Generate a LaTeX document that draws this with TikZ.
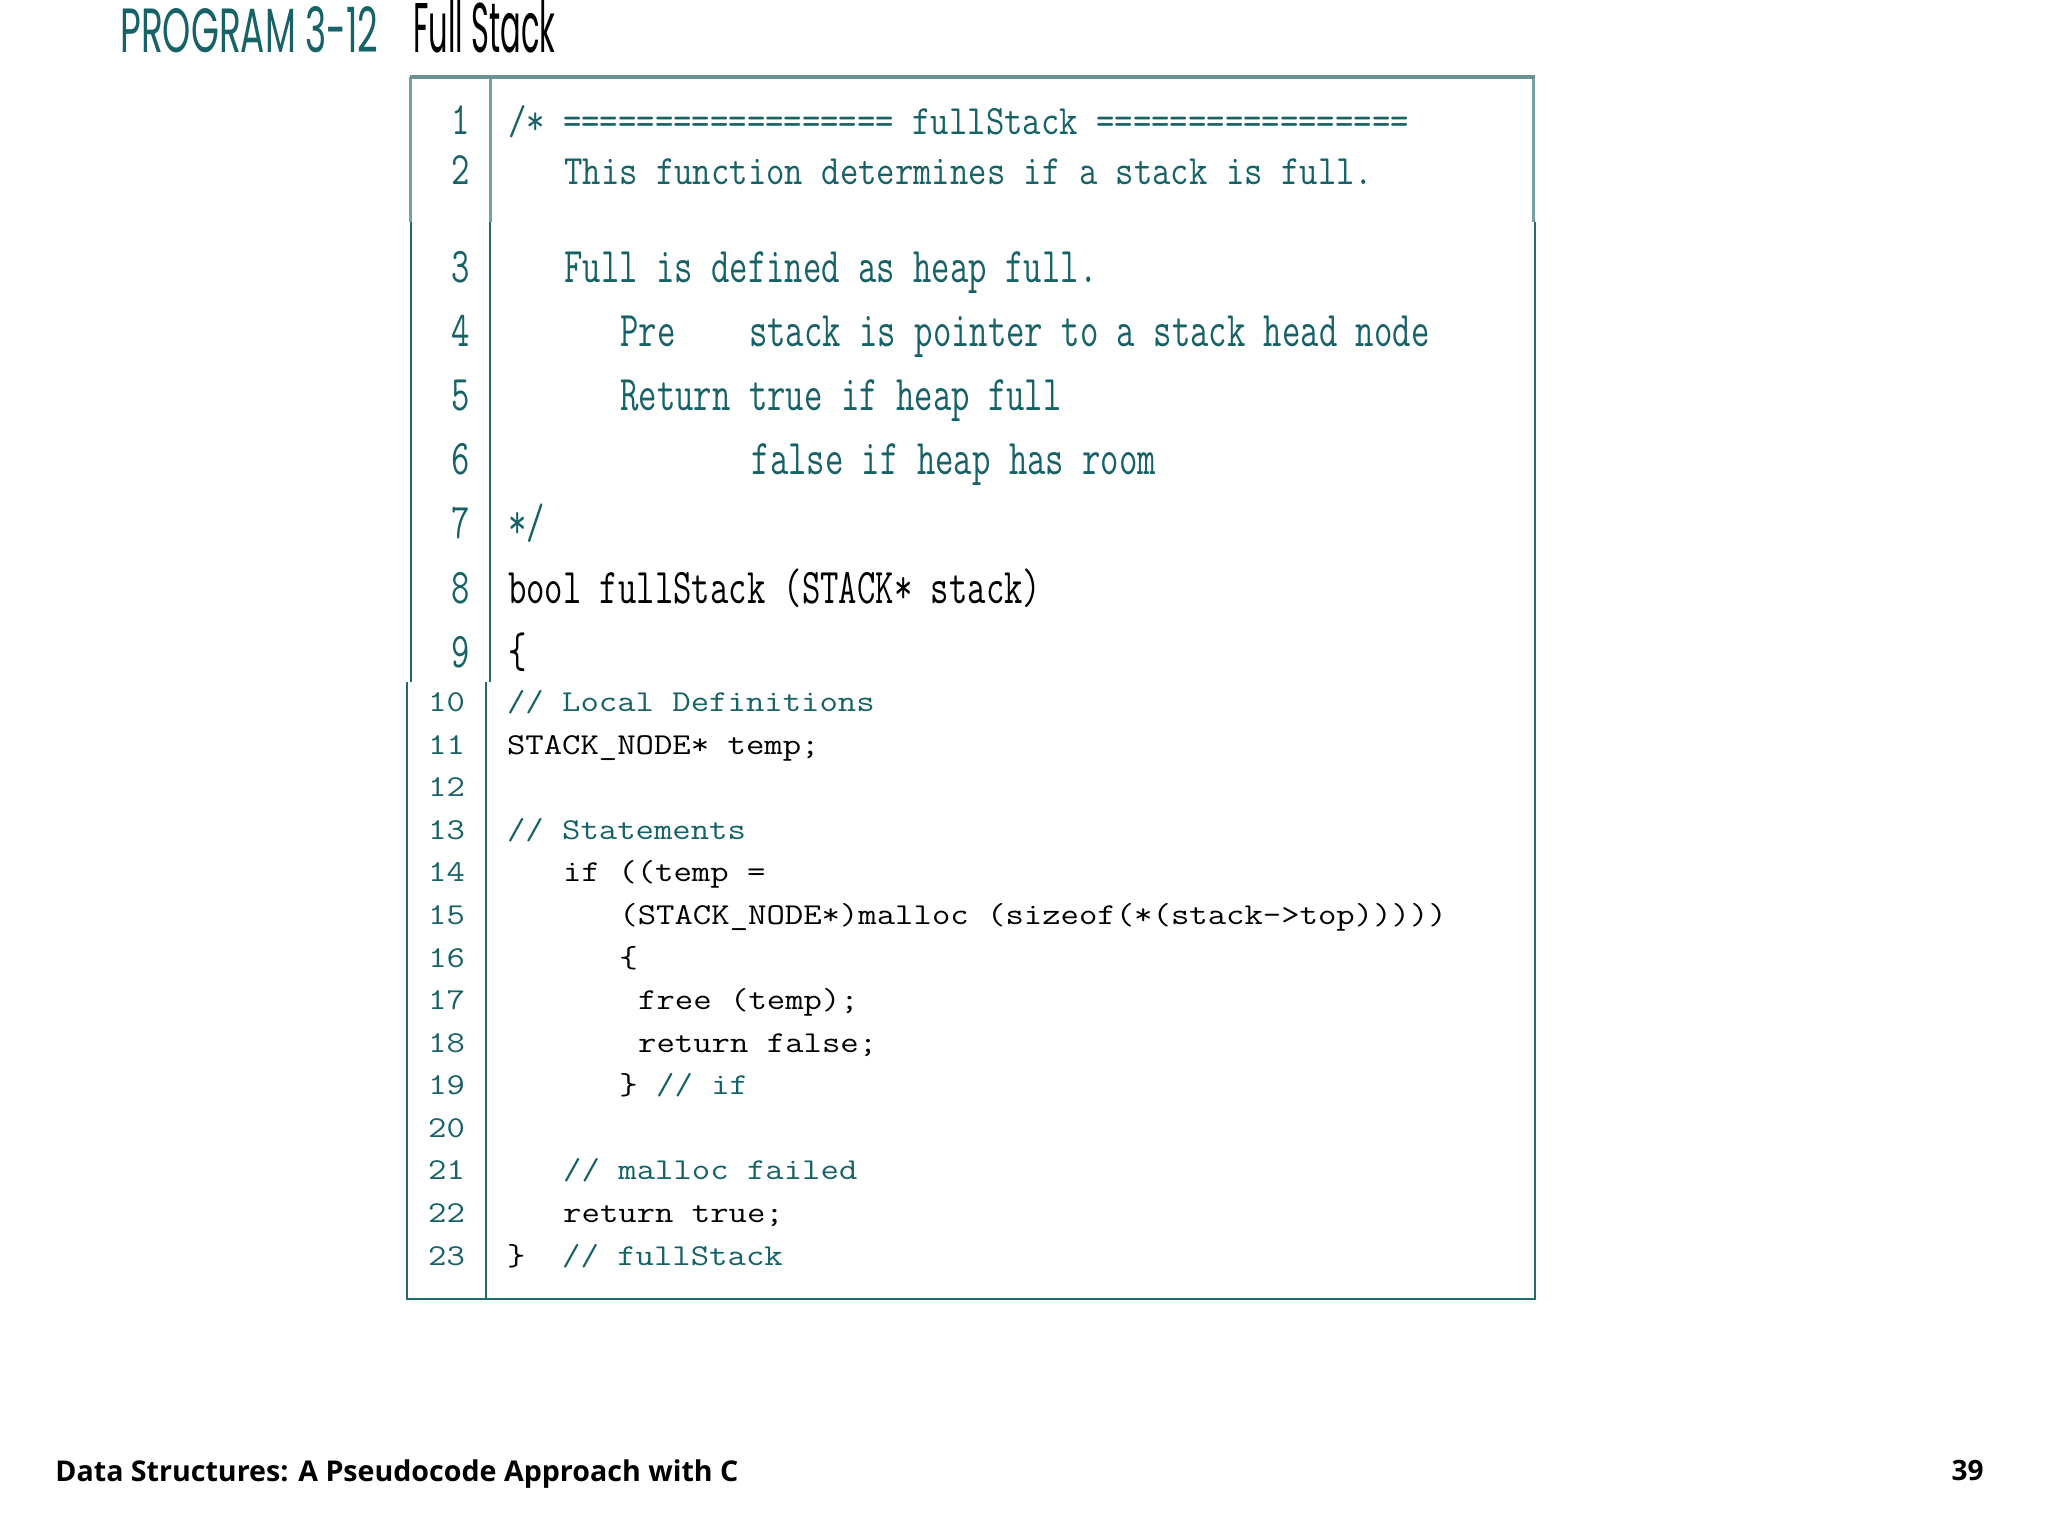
\documentclass[tikz,border=0pt]{standalone}
\usepackage{fontspec}
\usepackage{graphicx}
\newfontfamily\codefont{Latin Modern Mono}
\newfontfamily\titlefont{Poppins}
\newfontfamily\footfont{Open Sans}
\definecolor{codeteal}{RGB}{22,98,102}
\definecolor{boxteal}{RGB}{30,108,114}
\definecolor{lightteal}{RGB}{120,160,163}
\newcommand\Uu[1]{\scalebox{1}[1.4]{#1}}
\newcommand\Vv[1]{\scalebox{1}[1.17]{#1}}
\newcommand\Ww[1]{\scalebox{1}[1.3]{#1}}
\newcommand\Ll[1]{\scalebox{1}[0.85]{#1}}
\begin{document}
\begin{tikzpicture}[x=0.5pt,y=-0.5pt,
  code/.style={anchor=base west, inner sep=0pt, outer sep=0pt,
    font=\codefont\fontsize{17.85pt}{20pt}\selectfont},
  cmt/.style={code, text=codeteal},
  blk/.style={code, text=black},
  unum/.style={anchor=base east, inner sep=0pt, outer sep=0pt, text=codeteal,
    font=\codefont\fontsize{17.85pt}{20pt}\selectfont},
  lnum/.style={unum},
  darkline/.style={draw=boxteal, line width=1pt},
  lightline/.style={draw=lightteal, line width=1.5pt},
  topline/.style={draw=lightteal!90!black, line width=2pt}]
\fill[white] (0,0) rectangle (2048,1536);
\useasboundingbox (0,0) rectangle (2048,1536);

% title
\node[anchor=base west, inner sep=0pt, text=codeteal] (t1) at (120,53)
  {\resizebox{129pt}{23pt}{\titlefont PROGRAM 3-12}};
\node[anchor=base west, inner sep=0pt, text=black] (t2) at (413,53)
  {\resizebox{71pt}{26pt}{\titlefont Full Stack}};

% box: light upper segment
\draw[lightline] (410.7,77) -- (410.7,222);
\draw[lightline] (490,77) -- (490,222);
\draw[lightline] (1533,77) -- (1533,222);
\draw[topline] (409.5,77.3) -- (1534.5,77.3);
% dark parts
\draw[darkline] (410.7,222) -- (410.7,682);
\draw[darkline] (490,222) -- (490,682);
\draw[darkline] (406.7,682) -- (406.7,1299);
\draw[darkline] (486,682) -- (486,1299);
\draw[darkline] (1534.7,222) -- (1534.7,1299);
\draw[draw=boxteal, line width=1.3pt] (406,1299) -- (1535.5,1299);

% upper line numbers
\node[unum] (n1) at (470,134) {\Ww{1}};
\node[unum] (n2) at (470,184) {\Ww{2}};
\node[unum] (n3) at (470,282) {\Uu{3}};
\node[unum] (n4) at (470,346.2) {\Uu{4}};
\node[unum] (n5) at (470,410.5) {\Uu{5}};
\node[unum] (n6) at (470,474.7) {\Uu{6}};
\node[unum] (n7) at (470,538.8) {\Uu{7}};
\node[unum] (n8) at (470,603) {\Uu{8}};
\node[unum] (n9) at (470,667) {\Uu{9}};

% upper code
\node[cmt] (l1) at (508,134) {\Vv{/* ================== fullStack =================}};
\node[cmt] (l2) at ({508+3*18.74},184) {\Vv{This function determines if a stack is full.}};
\node[cmt] (l3) at ({508+3*18.74},282) {\Uu{Full is defined as heap full.}};
\node[cmt] (l4) at ({508+6*18.74},346.2) {\Uu{Pre\ \ \ \ stack is pointer to a stack head node}};
\node[cmt] (l5) at ({508+6*18.74},410.5) {\Uu{Return true if heap full}};
\node[cmt] (l6) at ({508+13*18.74},474.7) {\Uu{false if heap has room}};
\node[cmt] (l7) at (508,538.8) {\Uu{*/}};
\node[blk] (l8) at (508,603) {\Uu{bool fullStack (STACK* stack)}};
\node[blk] (l9) at (508,667) {\Uu{\{}};

% lower line numbers
\node[lnum] (n10) at (465,711.7) {\Ll{10}};
\node[lnum] (n11) at (465,754.3) {\Ll{11}};
\node[lnum] (n12) at (465,796.8) {\Ll{12}};
\node[lnum] (n13) at (465,839.4) {\Ll{13}};
\node[lnum] (n14) at (465,881.9) {\Ll{14}};
\node[lnum] (n15) at (465,924.5) {\Ll{15}};
\node[lnum] (n16) at (465,967.1) {\Ll{16}};
\node[lnum] (n17) at (465,1009.6) {\Ll{17}};
\node[lnum] (n18) at (465,1052.2) {\Ll{18}};
\node[lnum] (n19) at (465,1094.8) {\Ll{19}};
\node[lnum] (n20) at (465,1137.3) {\Ll{20}};
\node[lnum] (n21) at (465,1179.9) {\Ll{21}};
\node[lnum] (n22) at (465,1222.4) {\Ll{22}};
\node[lnum] (n23) at (465,1265) {\Ll{23}};

% lower code
\node[cmt] (l10) at (507,711.7) {\Ll{// Local Definitions}};
\node[blk] (l11) at (507,754.3) {\Ll{STACK\_NODE* temp;}};
\node[cmt] (l13) at (507,839.4) {\Ll{// Statements}};
\node[blk] (l14) at ({507+3*18.74},881.9) {\Ll{if ((temp =}};
\node[blk] (l15) at ({507+6*18.74},924.5) {\Ll{(STACK\_NODE*)malloc (sizeof(*(stack->top)))))}};
\node[blk] (l16) at ({507+6*18.74},967.1) {\Ll{\{}};
\node[blk] (l17) at ({507+7*18.74},1009.6) {\Ll{free (temp);}};
\node[blk] (l18) at ({507+7*18.74},1052.2) {\Ll{return false;}};
\node[blk] (l19) at ({507+6*18.74},1094.8) {\Ll{\}\ \textcolor{codeteal}{// if}}};
\node[cmt] (l21) at ({507+3*18.74},1179.9) {\Ll{// malloc failed}};
\node[blk] (l22) at ({507+3*18.74},1222.4) {\Ll{return true;}};
\node[blk] (l23) at (507,1265) {\Ll{\}\ \ \textcolor{codeteal}{// fullStack}}};

% footer
\node[anchor=base west, inner sep=0pt, text=black] (f1) at (55,1481)
  {\resizebox{341.5pt}{!}{\footfont\fontsize{14.5pt}{17pt}\selectfont\bfseries Data Structures: A Pseudocode Approach with C}};
\node[anchor=base east, inner sep=0pt, text=black] (f2) at (1984,1480)
  {\footfont\fontsize{14pt}{17pt}\selectfont\bfseries 39};
\end{tikzpicture}
\end{document}
